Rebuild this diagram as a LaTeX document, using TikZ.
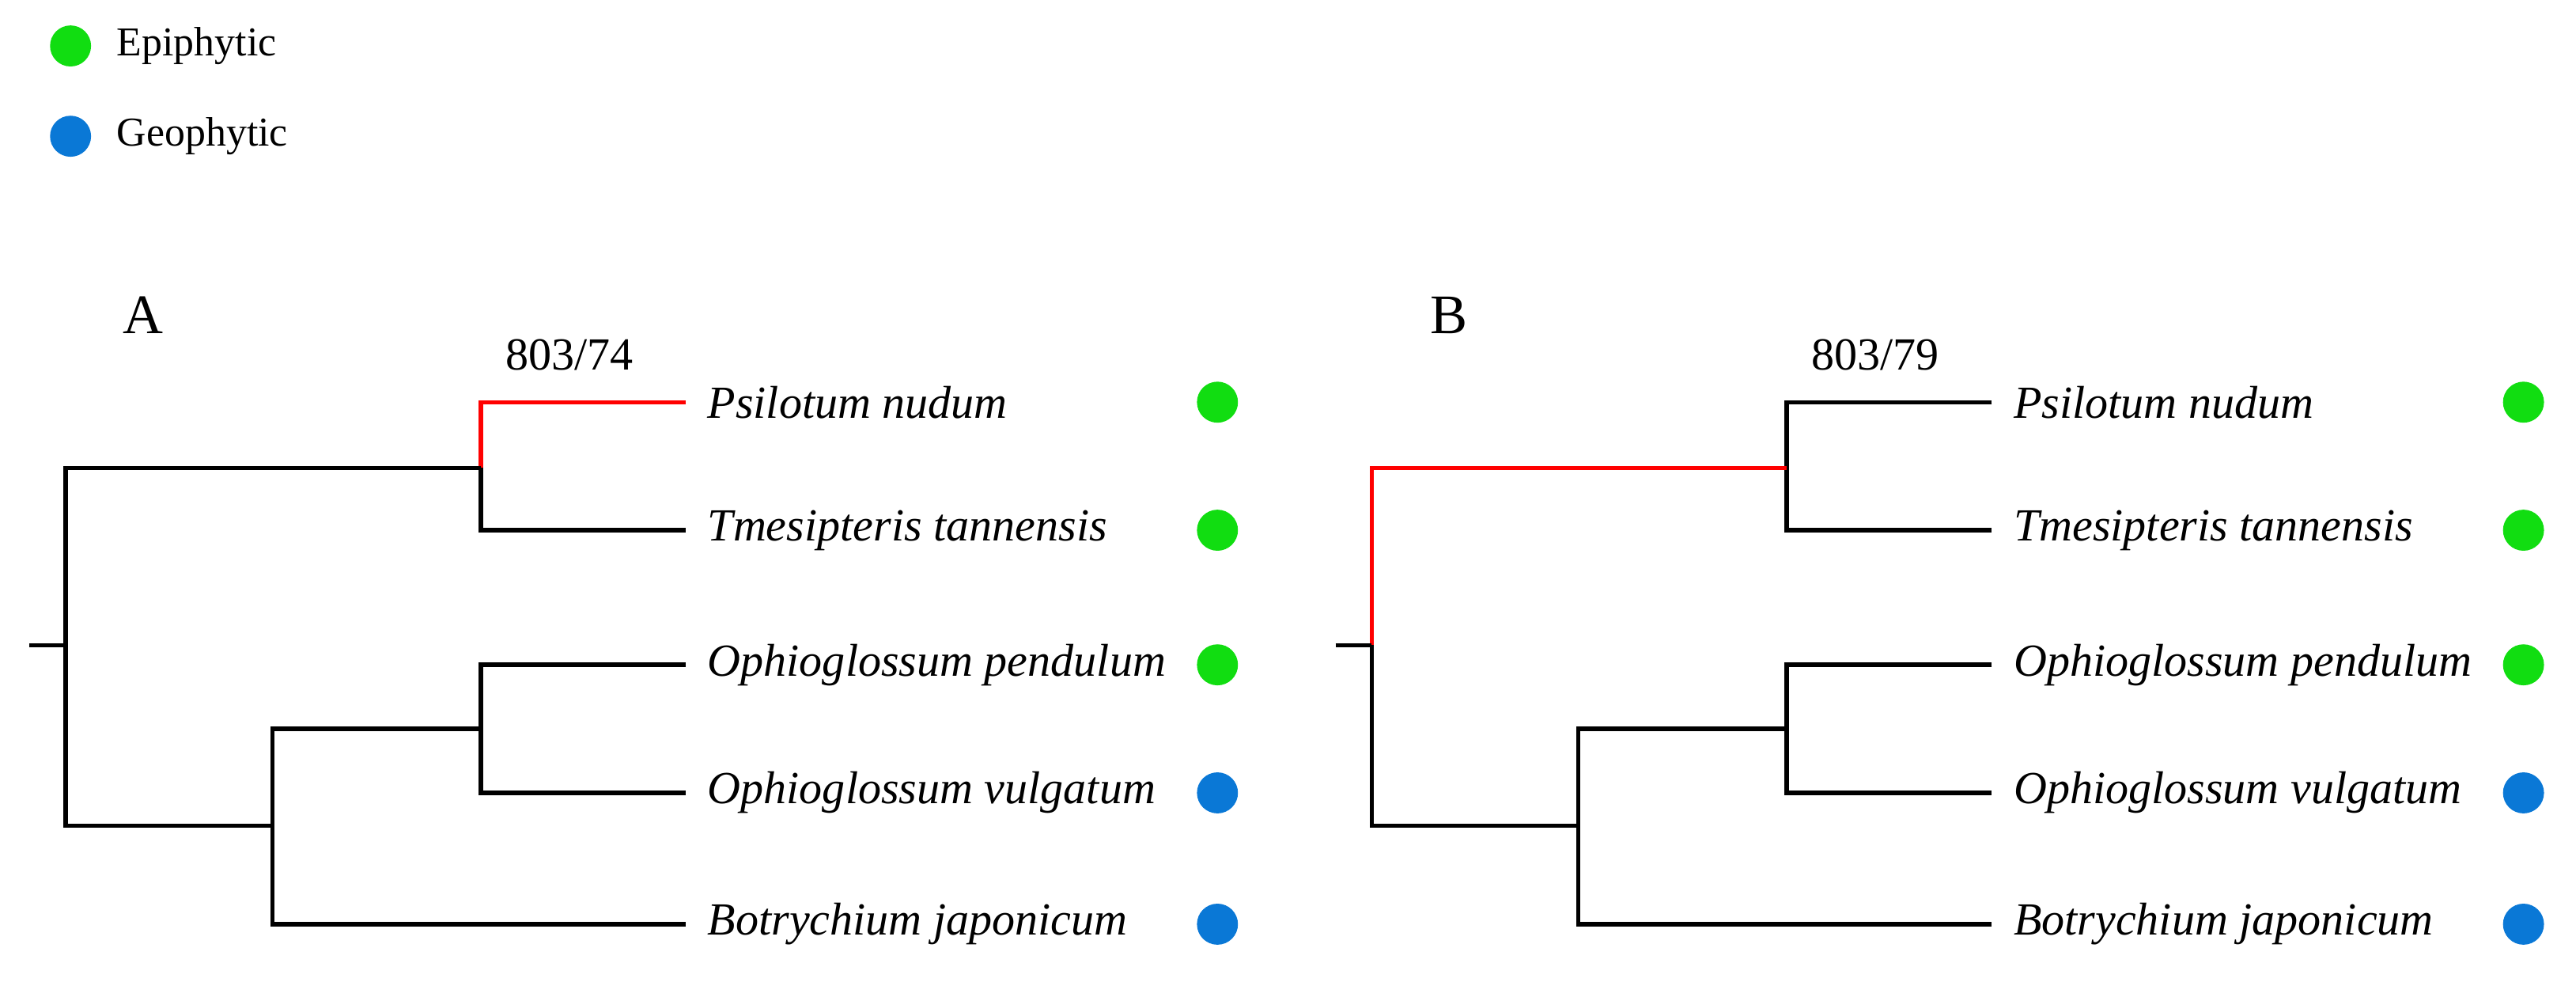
\documentclass[tikz,border=0pt]{standalone}
\usepackage{fontspec}
\setmainfont{Liberation Serif}
\definecolor{epi}{HTML}{11DD11}
\definecolor{geo}{HTML}{0A78D6}
\begin{document}
\begin{tikzpicture}[x=0.5pt,y=-0.5pt,line width=1.3pt,
  taxon/.style={anchor=west,inner sep=0pt,font=\fontsize{14}{16}\selectfont\itshape},
  dot/.style={circle,inner sep=0pt,minimum size=12.5pt},
  lab/.style={font=\fontsize{14}{16}\selectfont}]
\useasboundingbox (0,0) rectangle (1570,598);
% legend
\node[dot,fill=epi] (le) at (43,28) {};
\node[lab,anchor=west,inner sep=0pt,font=\fontsize{12.5}{15}\selectfont] at (70,28) {Epiphytic};
\node[dot,fill=geo] (lg) at (43,83) {};
\node[lab,anchor=west,inner sep=0pt,font=\fontsize{12.5}{15}\selectfont] at (70,83) {Geophytic};
\foreach \dx/\pl/\bs/\ra/\rb in {0/A/803{/}74/red/black,796/B/803{/}79/black/red}{
\begin{scope}[xshift=\dx*0.5pt]
\node[lab,font=\fontsize{17}{20}\selectfont] at (87,192) {\pl};
\node[lab] at (347,216) {\bs};
\coordinate (L1) at (418,245);
\coordinate (L2) at (418,323);
\coordinate (L3) at (418,405);
\coordinate (L4) at (418,483);
\coordinate (L5) at (418,563);
\node[taxon] (t1) at (430,245) {Psilotum nudum};
\node[taxon] (t2) at (430,323) {Tmesipteris tannensis};
\node[taxon] (t3) at (430,405) {Ophioglossum pendulum};
\node[taxon] (t4) at (430,483) {Ophioglossum vulgatum};
\node[taxon] (t5) at (430,563) {Botrychium japonicum};
\node[dot,fill=epi] at (742,245) {};
\node[dot,fill=epi] at (742,323) {};
\node[dot,fill=epi] at (742,405) {};
\node[dot,fill=geo] at (742,483) {};
\node[dot,fill=geo] at (742,563) {};
% tree
\draw[\ra] (L1) -- (293,245) -- (293,285);
\draw (293,285) -- (293,323) -- (L2);
\draw (L3) -- (293,405) -- (293,483) -- (L4);
\draw (293,444) -- (166,444) -- (166,563) -- (L5);
\draw[\rb] (293,285) -- (40,285) -- (40,393);
\draw (40,393) -- (40,503) -- (166,503);
\draw (18,393) -- (40,393);
\end{scope}}
\end{tikzpicture}
\end{document}
